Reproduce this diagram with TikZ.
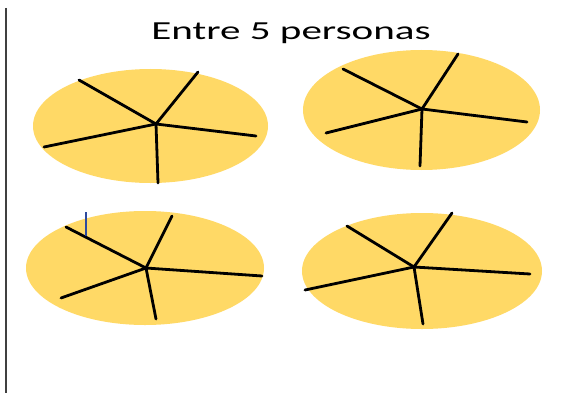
\documentclass[tikz,border=0pt]{standalone}
\usepackage{fontspec}
\setmainfont{Carlito}
\definecolor{pie}{HTML}{FFD966}
\definecolor{cursor}{HTML}{2E4A9E}
\begin{document}
\begin{tikzpicture}[x=1pt,y=-1pt,
  pizza/.style={fill=pie,draw=none},
  cut/.style={line width=2.8pt,black,line cap=round}]
\useasboundingbox (0,0) rectangle (569,393);
\fill[white] (0,0) rectangle (569,393);
% left margin line
\coordinate (lt) at (6,8);
\coordinate (lb) at (6,393);
\draw[line width=1.8pt,black!75] (lt) -- (lb);
% title
\node[anchor=base,inner sep=0pt] (title) at (291,39.3)
  {\scalebox{1.58}[1]{\fontsize{26}{30}\selectfont Entre 5 personas}};
% pie 1
\fill[pizza] (150.5,126) ellipse [x radius=117.5, y radius=57];
\coordinate (c1) at (156,124);
\coordinate (a1) at (79,80);
\coordinate (b1) at (198,72);
\coordinate (d1) at (256,136);
\coordinate (e1) at (158,183);
\coordinate (f1) at (44,147);
\draw[cut] (a1) -- (c1) -- (b1);
\draw[cut] (d1) -- (c1) -- (e1);
\draw[cut] (f1) -- (c1);
% pie 2
\fill[pizza] (421.5,110) ellipse [x radius=118.5, y radius=60];
\coordinate (c2) at (422,109);
\coordinate (a2) at (343,69);
\coordinate (b2) at (458,54);
\coordinate (d2) at (527,122);
\coordinate (e2) at (420,166);
\coordinate (f2) at (326,133);
\draw[cut] (a2) -- (c2) -- (b2);
\draw[cut] (d2) -- (c2) -- (e2);
\draw[cut] (f2) -- (c2);
% pie 3
\fill[pizza] (145,268) ellipse [x radius=119, y radius=57];
\coordinate (c3) at (146,268);
\coordinate (a3) at (66,227);
\coordinate (b3) at (172,216);
\coordinate (d3) at (262,276);
\coordinate (e3) at (156,319);
\coordinate (f3) at (61,298);
\draw[cut] (a3) -- (c3) -- (b3);
\draw[cut] (d3) -- (c3) -- (e3);
\draw[cut] (f3) -- (c3);
% pie 4
\fill[pizza] (422,271) ellipse [x radius=120, y radius=58];
\coordinate (c4) at (414,267);
\coordinate (a4) at (347,226);
\coordinate (b4) at (452,213);
\coordinate (d4) at (530,274);
\coordinate (e4) at (423,324);
\coordinate (f4) at (305,290);
\draw[cut] (a4) -- (c4) -- (b4);
\draw[cut] (d4) -- (c4) -- (e4);
\draw[cut] (f4) -- (c4);
% text cursor
\coordinate (k1) at (86,212);
\coordinate (k2) at (86,236);
\draw[line width=1.6pt,cursor] (k1) -- (k2);
\end{tikzpicture}
\end{document}
